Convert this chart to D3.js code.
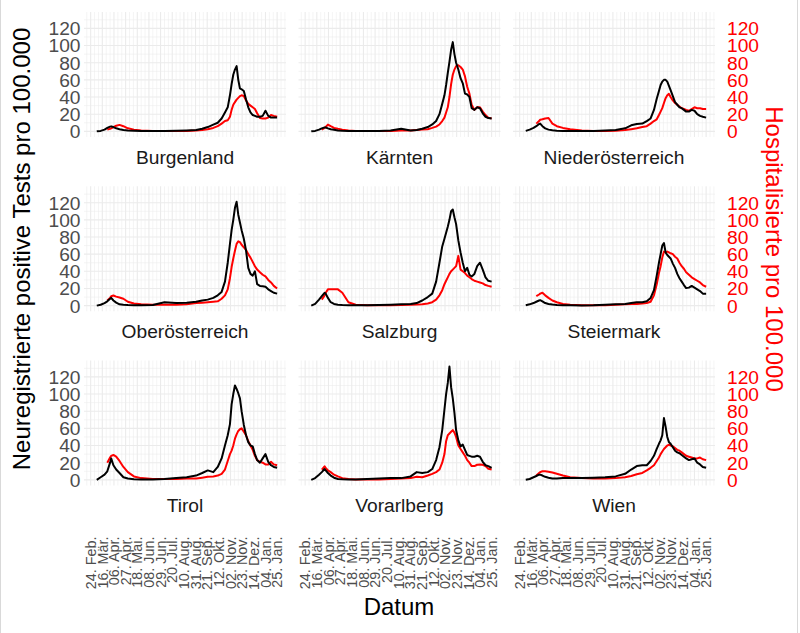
<!DOCTYPE html>
<html><head><meta charset="utf-8">
<script src="https://cdn.jsdelivr.net/npm/d3@7"></script>
<style>body{margin:0;background:#fff} svg{display:block}</style>
</head><body>
<svg id="chart" width="800" height="633"></svg>
<script>
// ---------- data ----------
const regionNames = ["Burgenland","Kärnten","Niederösterreich","Oberösterreich","Salzburg","Steiermark","Tirol","Vorarlberg","Wien"];
const dates = ["2020-03-06","2020-03-13","2020-03-20","2020-03-25","2020-03-30","2020-04-01","2020-04-05","2020-04-10","2020-04-16","2020-04-23","2020-05-01","2020-05-12","2020-05-25","2020-06-15","2020-07-06","2020-07-27","2020-08-15","2020-09-01","2020-09-12","2020-09-22","2020-10-02","2020-10-10","2020-10-17","2020-10-23","2020-10-28","2020-11-01","2020-11-04","2020-11-07","2020-11-10","2020-11-13","2020-11-16","2020-11-19","2020-11-22","2020-11-26","2020-11-30","2020-12-04","2020-12-08","2020-12-12","2020-12-16","2020-12-20","2020-12-25","2020-12-30","2021-01-04","2021-01-09","2021-01-14","2021-01-19","2021-01-25"];

const testsBurgenland = [0,0.5,2,4,5.5,5.8,5,3.5,2.5,1.5,1,0.7,0.5,0.3,0.5,0.7,1,1.5,3,5,7.8,10,15,22,28,42,55,66,72,76,60,50,49,47,37,28,22,19,18,17,17,18,24,18,16,16,16];
const hospBurgenland = [null,null,null,2,3,3.5,5,6.5,7.5,6,3.5,2,1,0.5,0.3,0.5,0.5,1,1.5,2.5,4,6,9,12,13,17,25,31,34,37,39,41,42,41,36,32,30,28,26,21,15.5,15,15,16,19,18,17];
const testsKaernten = [0,0.5,2,3.5,4.6,4.5,3.5,2.5,1.8,1,0.7,0.5,0.3,0.3,0.5,1,3,1,1.5,3,5,8,12,20,32,42,54,68,81,95,104,90,80,72,62,56,44,43,40,27,25,28,27,21,17,15.5,15];
const hospKaernten = [null,null,null,2,4,5,7.8,6,4,3,2,1,0.5,0.3,0.3,0.5,1,1,1.5,2,2.5,4,5.5,8,12,16,22,28,40,55,66,72,76,77,75,72,64,52,44,31,25,28,28,23,19,16,15];
const testsNiederoesterreich = [0.5,2,4,6,8.5,9,6,3.5,2,1.2,0.8,0.5,0.4,0.3,0.5,1,1.5,3.5,7,8.5,9,12,15,25,38,47,54,58,60,60,58,53,48,41,34,31,28,27,25,23,23,25,24,20,18,17,16];
const hospNiederoesterreich = [null,null,null,9,12,13.6,14,15,15.5,9,6,4,2.5,1,0.5,0.5,0.8,1.5,2.5,3.5,5,6,9,12,14,19,23,27,33,38.7,42,43.7,40,36,33,31,29,27,26,25,24,26,28,27,27,26,26];
const testsOberoesterreich = [0,1,3,5,8,9,6,3.5,1.5,1,0.7,0.5,0.5,0.7,4,3,3.5,4.5,6,7,9,12,16,28,50,72,88,100,114,121,106,97,88,78,64,44,37,35,40,25,23,22.6,22,19,17,15,14];
const hospOberoesterreich = [null,null,null,6,9,11,11.8,10.5,9.5,8,4.5,2.5,1.5,1,1,1,1.5,3,3.5,4,4.5,5,8,12,19,32,45,55,64,72,75,74,71,68,65,60,56,51,46,42,39,36,34,30,27,23,20];
const testsSalzburg = [0,2,7,11,15,14,9,4,2,1,0.7,0.5,0.4,0.4,0.7,1,1.5,2,3,6,10,14,28,50,69,78,85,92,100,110,112,103,95,76,62,50,40,44,36,34,37,46,50,42,33,29,28];
const hospSalzburg = [null,null,null,7,12,15,19,19,19,19,15,4,1,0.5,0.5,0.5,0.8,1,1.2,1.5,2.5,4,7,12,18,25,29,33,37,40,42,44,46,58,42,40,38,35,33,31,29,28,27,26,24,23,22];
const testsSteiermark = [0.5,1.5,3,4.5,6,6.4,5,3,2,1.2,0.8,0.5,0.4,0.3,0.5,1,1.5,2,3,4,4,5,9,18,35,50,60,70,73,62,59,57,55,49,44,37,32,28,24,20.5,21,23,21,19,17,14,14];
const hospSteiermark = [null,null,null,11,13,14,15,12,9,6,4,2,1,0.5,0.5,0.5,1,1.5,2,2,2.5,3,4.5,12,25,38,46,56,63,62,63,62,61,60,57,55,50,46,43,39,36,33,31,29,27,24,22];
const testsTirol = [0,3,6,10,20,25,17,12,8,3,1.5,0.8,0.5,0.5,1,2,3,5,8,11,9,15,25,40,52,65,88,100,110,106,101,95,80,64,52,44,40,39,30,23,20,25,30,21,17,15,14];
const hospTirol = [null,null,null,20,26,28,29,27,22,15,9,4,2,1,1,1,1.5,1.5,2.5,3.5,4,5,7,12,22,30,34,40,48,53,57,59,60,56,52,45,40,35,28,23,21,20,18,18,21,18,17];
const testsVorarlberg = [0,2,6,9,12.6,11,8,5,2.5,1,0.7,0.5,0.5,1,1.5,2,2,4,9,8,9,12.6,23,38,58,82,100,113,132,108,95,78,58,46,39,41,35,29,28,27,27,28,27,21,17,16,14];
const hospVorarlberg = [null,null,null,12,15.7,14,11,9,6,4,2,1,0.5,0.5,0.5,1,1.5,2,3.5,3,5,7,9,12,20,30,45,52,54,56,58,55,50,40,36,32,28,23,20,16,16,17.6,18,17.6,16,13,12];
const testsWien = [0.2,1,3,4.5,6,6,5,3.5,2.5,1.5,1.5,2,2,2,2.5,3,4,7,12,16,17,17,22,28,36,42,46,52,72,62,50,44,42,38,34,32,31,29,27,25,23,24,25,20,18,15,14];
const hospWien = [null,null,null,5,8,9,10,10,9.5,8.5,7,5,3,2,1.5,1.5,2,3,4.5,6.5,8,11,14,17,22,26,30,33,36,38,40,41,40,39,37,35,34,32,30,28,27,26,25,25,26,24,23];

const xTickDates = ["2020-02-24","2020-03-16","2020-04-06","2020-04-27","2020-05-18","2020-06-08","2020-06-29","2020-07-20","2020-08-10","2020-08-31","2020-09-21","2020-10-12","2020-11-02","2020-11-23","2020-12-14","2021-01-04","2021-01-25"];
const xTickLabels = ["24. Feb.","16. Mär.","06. Apr.","27. Apr.","18. Mai.","08. Jun.","29. Jun.","20. Jul.","10. Aug.","31. Aug.","21. Sep.","12. Okt.","02. Nov.","23. Nov.","14. Dez.","04. Jan.","25. Jan."];
const yTicks = [0,20,40,60,80,100,120];
const yMinorTicks = [10,30,50,70,90,110,130];
const xDomain = ["2020-02-12","2021-02-10"];
const yDomain = [-6.6, 139.1];

const testsList = [testsBurgenland,testsKaernten,testsNiederoesterreich,testsOberoesterreich,testsSalzburg,testsSteiermark,testsTirol,testsVorarlberg,testsWien];
const hospList = [hospBurgenland,hospKaernten,hospNiederoesterreich,hospOberoesterreich,hospSalzburg,hospSteiermark,hospTirol,hospVorarlberg,hospWien];

// ---------- layout ----------
const parse = d3.utcParse("%Y-%m-%d");
const font = "'Liberation Sans', Arial, Helvetica, sans-serif";
const panelW = 202, panelH = 125;
const colX = [84, 298.5, 513];
const rowY = [12, 186.3, 360.5];

const svg = d3.select("#chart").style("font-family", font);
svg.append("rect").attr("width",800).attr("height",633).attr("fill","#fff");
svg.append("line").attr("x1",0.5).attr("x2",0.5).attr("y1",0).attr("y2",633).attr("stroke","#d9d9d9");
svg.append("line").attr("x1",797.5).attr("x2",797.5).attr("y1",0).attr("y2",633).attr("stroke","#d9d9d9");

const x = d3.scaleUtc().domain(xDomain.map(parse)).range([0, panelW]);
const y = d3.scaleLinear().domain(yDomain).range([panelH, 0]);

const majorX = xTickDates.map(parse);
const majorSet = new Set(majorX.map(d => +d));
const minorX = d3.utcMonday.range(x.domain()[0], x.domain()[1]).filter(d => !majorSet.has(+d));
const dateObjs = dates.map(parse);

const line = d3.line()
  .defined(d => d.v != null)
  .x(d => x(d.date))
  .y(d => y(d.v));

regionNames.forEach((name, i) => {
  const col = i % 3, row = Math.floor(i / 3);
  const g = svg.append("g").attr("transform", `translate(${colX[col]},${rowY[row]})`);

  // grid
  g.selectAll(".mx").data(minorX).join("line")
    .attr("x1", d => x(d)).attr("x2", d => x(d)).attr("y1", 0).attr("y2", panelH)
    .attr("stroke", "#ebebeb").attr("stroke-width", 0.55);
  g.selectAll(".my").data(yMinorTicks).join("line")
    .attr("x1", 0).attr("x2", panelW).attr("y1", d => y(d)).attr("y2", d => y(d))
    .attr("stroke", "#ebebeb").attr("stroke-width", 0.55);
  g.selectAll(".Mx").data(majorX).join("line")
    .attr("x1", d => x(d)).attr("x2", d => x(d)).attr("y1", 0).attr("y2", panelH)
    .attr("stroke", "#ebebeb").attr("stroke-width", 1.1);
  g.selectAll(".My").data(yTicks).join("line")
    .attr("x1", 0).attr("x2", panelW).attr("y1", d => y(d)).attr("y2", d => y(d))
    .attr("stroke", "#ebebeb").attr("stroke-width", 1.1);

  const hosp = dateObjs.map((d, k) => ({date: d, v: hospList[i][k]}));
  const tests = dateObjs.map((d, k) => ({date: d, v: testsList[i][k]}));
  g.append("path").datum(hosp).attr("d", line).attr("fill", "none")
    .attr("stroke", "#ff0000").attr("stroke-width", 2).attr("stroke-linejoin", "round");
  g.append("path").datum(tests).attr("d", line).attr("fill", "none")
    .attr("stroke", "#000000").attr("stroke-width", 2).attr("stroke-linejoin", "round");

  // strip
  g.append("text").attr("x", panelW / 2).attr("y", 151.5).attr("text-anchor", "middle")
    .attr("font-size", 19.2).attr("fill", "#1a1a1a").text(name);

  if (col === 0) {
    g.selectAll(".yl").data(yTicks).join("text")
      .attr("x", -3.5).attr("y", d => y(d)).attr("dy", "0.36em")
      .attr("text-anchor", "end").attr("font-size", 19.2).attr("fill", "#4d4d4d")
      .text(d => d);
  }
  if (col === 2) {
    g.selectAll(".yr").data(yTicks).join("text")
      .attr("x", panelW + 12).attr("y", d => y(d)).attr("dy", "0.36em")
      .attr("text-anchor", "start").attr("font-size", 19.2).attr("fill", "#ff0000")
      .text(d => d);
  }
  if (row === 2) {
    g.selectAll(".xl").data(majorX).join("text")
      .attr("transform", (d) => `translate(${x(d)},176) rotate(-90)`)
      .attr("dy", "0.36em").attr("text-anchor", "end")
      .attr("font-size", 14.4).attr("fill", "#4d4d4d")
      .text((d, k) => xTickLabels[k]);
  }
});

// titles
svg.append("text").attr("transform", "translate(30,249) rotate(-90)")
  .attr("text-anchor", "middle").attr("font-size", 24).attr("fill", "#000")
  .text("Neuregistrierte positive Tests pro 100.000");
svg.append("text").attr("transform", "translate(766,249) rotate(90)")
  .attr("text-anchor", "middle").attr("font-size", 24).attr("fill", "#ff0000")
  .text("Hospitalisierte pro 100.000");
svg.append("text").attr("x", 399).attr("y", 615)
  .attr("text-anchor", "middle").attr("font-size", 24).attr("fill", "#000")
  .text("Datum");
</script>
</body></html>
